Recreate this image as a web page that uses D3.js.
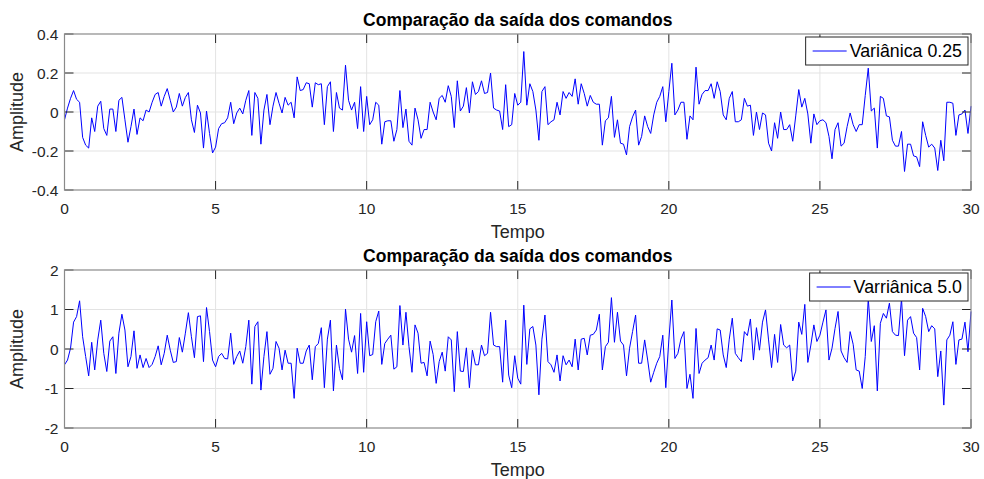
<!DOCTYPE html>
<html>
<head>
<meta charset="utf-8">
<script src="https://cdnjs.cloudflare.com/ajax/libs/d3/7.8.5/d3.min.js"></script>
<style>
  body { margin: 0; background: #fff; }
  svg { display: block; font-family: "Liberation Sans", Arial, sans-serif; }
  .tick-label { fill: #262626; font-size: 15.5px; }
  .axis-label { fill: #262626; font-size: 18px; }
  .panel-title { fill: #000; font-size: 17.5px; font-weight: bold; }
  .legend-text { fill: #000; font-size: 17.8px; }
</style>
</head>
<body>
<div id="chart"></div>
<script>
// sample period of both signals (s)
let sampleStep = 0.1;

let xTicks = [0, 5, 10, 15, 20, 25, 30];
let yTicksTop = [-0.4, -0.2, 0, 0.2, 0.4];
let yTicksBottom = [-2, -1, 0, 1, 2];

let titleText = "Comparação da saída dos comandos";
let legendTop = "Variânica 0.25";
let legendBottom = "Varriânica 5.0";

// variance 0.25 output, one row per second
let outputLow = [
  -0.04, 0.02, 0.07, 0.11, 0.065, 0.05, -0.13, -0.17, -0.185, -0.03,
  -0.10, 0.03, 0.055, -0.085, -0.12, 0.015, 0.015, -0.10, 0.06, 0.075,
  -0.04, -0.155, -0.075, 0.015, -0.115, -0.03, -0.045, 0.01, 0.0, 0.05,
  0.09, 0.10, 0.03, 0.08, 0.12, 0.06, 0.0, 0.025, 0.095, 0.03,
  0.075, 0.10, -0.04, -0.105, 0.035, -0.005, -0.185, 0.005, -0.11, -0.21,
  -0.18, -0.085, -0.06, -0.055, -0.03, 0.05, -0.06, -0.005, 0.02, -0.01,
  0.06, 0.11, -0.12, 0.10, 0.07, -0.165, 0.01, 0.09, -0.065, 0.03,
  0.10, 0.045, -0.005, 0.075, 0.035, 0.05, -0.03, 0.18, 0.11, 0.115,
  0.15, 0.145, 0.025, 0.15, 0.14, 0.145, -0.065, 0.13, 0.155, -0.10,
  0.10, 0.02, 0.01, 0.24, 0.06, 0.01, 0.05, -0.085, 0.13, -0.10,
  0.08, -0.065, -0.04, 0.05, 0.035, -0.165, -0.05, -0.045, -0.045, -0.15,
  -0.09, 0.11, -0.08, 0.015, -0.15, -0.17, 0.02, -0.04, -0.135, -0.09,
  -0.09, 0.05, 0.0, -0.04, 0.07, 0.085, 0.05, 0.135, 0.08, -0.08,
  0.16, 0.005, 0.03, 0.125, -0.005, 0.155, 0.09, 0.105, 0.16, 0.095,
  0.10, 0.20, 0.02, 0.01, 0.005, -0.09, 0.14, -0.075, -0.065, 0.095,
  0.035, 0.05, 0.31, 0.035, 0.145, 0.105, 0.01, -0.145, 0.105, 0.13,
  -0.065, -0.05, -0.04, 0.05, -0.015, 0.105, 0.07, 0.10, 0.08, 0.17,
  0.04, 0.145, 0.095, 0.03, 0.085, 0.05, 0.04, 0.04, -0.17, -0.045,
  -0.03, 0.08, -0.13, -0.04, -0.16, -0.165, -0.22, -0.075, -0.025, 0.01,
  -0.17, -0.125, -0.02, -0.075, -0.11, -0.015, 0.05, 0.08, 0.13, -0.05,
  0.105, 0.25, -0.015, 0.01, 0.05, 0.05, -0.14, -0.02, -0.04, 0.23,
  0.04, 0.09, 0.11, 0.11, 0.145, 0.07, 0.155, 0.105, -0.015, -0.04,
  0.07, 0.105, -0.05, -0.05, -0.04, 0.07, 0.03, 0.035, -0.12, 0.0,
  -0.09, -0.005, -0.015, -0.16, -0.20, -0.055, -0.135, 0.0, -0.09, -0.09,
  -0.065, -0.15, -0.02, 0.115, 0.025, 0.07, -0.01, -0.16, -0.01, -0.065,
  -0.045, -0.04, -0.055, -0.125, -0.24, -0.09, -0.055, -0.175, -0.16, -0.075,
  -0.005, -0.065, -0.10, -0.065, -0.065, 0.085, 0.225, 0.005, 0.02, -0.185,
  0.08, 0.07, -0.02, -0.025, -0.145, -0.175, -0.175, -0.10, -0.305, -0.165,
  -0.165, -0.225, -0.23, -0.28, -0.05, -0.12, -0.18, -0.165, -0.185, -0.30,
  -0.145, -0.25, 0.05, 0.05, 0.045, -0.12, -0.015, -0.01, 0.01, -0.11,
  0.03
];

// variance 5.0 output
let outputHigh = [
  -0.40, -0.28, 0.02, 0.68, 0.82, 1.22, 0.31, -0.19, -0.68, 0.17,
  -0.53, 0.23, 0.73, -0.11, -0.57, 0.20, 0.31, -0.62, 0.40, 0.88,
  0.48, -0.45, -0.19, 0.46, -0.49, -0.15, -0.47, -0.24, -0.47, -0.39,
  -0.19, 0.08, -0.40, -0.11, 0.35, -0.03, -0.34, -0.32, 0.29, -0.08,
  0.40, 0.92, 0.31, -0.22, 0.82, 0.84, -0.32, 1.05, 0.44, -0.28,
  -0.45, -0.19, -0.11, -0.24, -0.25, 0.40, -0.39, -0.19, -0.05, -0.36,
  0.06, 0.73, -0.89, 0.57, 0.69, -1.04, -0.19, 0.44, -0.64, -0.49,
  0.19, 0.02, -0.53, -0.03, -0.36, -0.36, -1.25, 0.02, -0.36, -0.36,
  -0.05, 0.10, -0.78, 0.06, 0.14, 0.54, -0.98, 0.25, 0.73, -1.06,
  0.10, -0.49, -0.78, 1.01, 0.25, -0.08, 0.34, -0.62, 0.90, -0.59,
  0.69, -0.17, -0.14, 0.69, 0.96, -0.39, 0.14, 0.25, 0.35, -0.51,
  -0.45, 1.10, 0.10, 0.93, 0.06, -0.59, 0.61, 0.40, -0.36, -0.34,
  -0.68, 0.20, -0.14, -0.87, -0.32, -0.08, -0.56, 0.31, 0.23, -1.08,
  0.44, -0.56, -0.57, 0.03, -0.98, -0.03, -0.40, -0.40, 0.10, -0.17,
  -0.11, 0.93, 0.10, 0.06, 0.06, -0.84, 0.73, -0.66, -0.98, -0.17,
  -0.74, -0.89, 1.11, -0.39, 0.51, 0.57, 0.10, -1.16, 0.25, 0.86,
  -0.32, -0.40, -0.59, -0.15, -0.81, -0.17, -0.40, -0.28, -0.45, 0.25,
  -0.53, 0.25, 0.27, -0.15, 0.35, 0.37, 0.48, 0.88, -0.53, 0.06,
  0.17, 1.30, 0.17, 0.93, 0.20, 0.10, -0.68, 0.02, 0.44, 0.86,
  -0.36, -0.36, 0.23, -0.28, -0.84, -0.59, -0.36, -0.19, 0.35, -0.98,
  0.23, 1.24, -0.24, -0.11, 0.25, 0.44, -1.00, -0.64, -1.25, 0.52,
  -0.62, -0.36, -0.28, -0.22, 0.10, -0.28, 0.51, 0.48, -0.15, -0.47,
  0.25, 0.78, -0.11, -0.22, -0.32, 0.44, 0.34, 0.76, -0.28, 0.54,
  -0.03, 0.68, 0.99, 0.23, -0.47, 0.37, -0.34, 0.62, 0.10, 0.03,
  0.10, -0.81, -0.56, 0.68, 0.37, 1.13, -0.34, 0.10, 0.61, 0.19,
  0.35, 0.68, 0.99, -0.28, 0.02, 0.52, 0.95, -0.05, -0.22, -0.34,
  0.44, 0.12, -0.53, -0.56, -1.00, -0.19, 1.28, 0.19, 0.59, -1.06,
  0.65, 0.90, 0.78, 1.16, 0.44, 0.35, 0.34, 1.28, -0.17, 0.73,
  0.82, 0.40, 0.29, -0.53, 1.03, 0.82, 0.44, 0.59, 0.51, -0.70,
  -0.05, -1.42, 0.23, 0.35, 0.69, -0.39, 0.23, 0.25, 0.68, -0.07,
  0.95
];

let width = 984,
  height = 479;

let svg = d3
  .select("#chart")
  .append("svg")
  .attr("width", width)
  .attr("height", height);

let xLeft = 64.5,
  xRight = 971;

let xScale = d3.scaleLinear().domain([0, 30]).range([xLeft, xRight]);

let line = d3.line();

function drawPanel(opts) {
  let yScale = d3
    .scaleLinear()
    .domain(d3.extent(opts.yTicks))
    .range([opts.bottom, opts.top]);

  let g = svg.append("g");
  let tickLen = 9;

  // grid
  let grid = g.append("g").attr("stroke", "#e3e3e3");
  grid
    .selectAll("line.gx")
    .data(xTicks.slice(1, -1))
    .join("line")
    .attr("class", "gx")
    .attr("x1", (d) => xScale(d))
    .attr("x2", (d) => xScale(d))
    .attr("y1", opts.top)
    .attr("y2", opts.bottom);

  grid
    .selectAll("line.gy")
    .data(opts.yTicks.slice(1, -1))
    .join("line")
    .attr("class", "gy")
    .attr("x1", xLeft)
    .attr("x2", xRight)
    .attr("y1", (d) => yScale(d))
    .attr("y2", (d) => yScale(d));

  // signal
  let values = opts.values.map((v, i) => [i * sampleStep, v]);
  line.x((d) => xScale(d[0])).y((d) => yScale(d[1]));

  g.append("path")
    .datum(values)
    .attr("d", line)
    .attr("fill", "none")
    .attr("stroke", "#0000ff")
    .attr("stroke-width", 1)
    .attr("stroke-linejoin", "round");

  // inward ticks on all four sides (matlab box style)
  let ticks = g.append("g").attr("stroke", "#262626").attr("stroke-width", 1);
  xTicks.forEach((t) => {
    ticks.append("line")
      .attr("x1", xScale(t)).attr("x2", xScale(t))
      .attr("y1", opts.bottom).attr("y2", opts.bottom - tickLen);
    ticks.append("line")
      .attr("x1", xScale(t)).attr("x2", xScale(t))
      .attr("y1", opts.top).attr("y2", opts.top + tickLen);
  });
  opts.yTicks.forEach((t) => {
    ticks.append("line")
      .attr("x1", xLeft).attr("x2", xLeft + tickLen)
      .attr("y1", yScale(t)).attr("y2", yScale(t));
    ticks.append("line")
      .attr("x1", xRight).attr("x2", xRight - tickLen)
      .attr("y1", yScale(t)).attr("y2", yScale(t));
  });

  g.append("rect")
    .attr("x", xLeft)
    .attr("y", opts.top)
    .attr("width", xRight - xLeft)
    .attr("height", opts.bottom - opts.top)
    .attr("fill", "none")
    .attr("stroke", "#8a8a8a")
    .attr("stroke-width", 1.2);

  // tick labels
  g.selectAll("text.xt")
    .data(xTicks)
    .join("text")
    .attr("class", "tick-label xt")
    .attr("x", (d) => xScale(d))
    .attr("y", opts.bottom + 24)
    .attr("text-anchor", "middle")
    .text((d) => d);

  g.selectAll("text.yt")
    .data(opts.yTicks)
    .join("text")
    .attr("class", "tick-label yt")
    .attr("x", xLeft - 6)
    .attr("y", (d) => yScale(d) + 5.5)
    .attr("text-anchor", "end")
    .text((d) => d);

  // labels
  g.append("text")
    .attr("class", "panel-title")
    .attr("x", (xLeft + xRight) / 2)
    .attr("y", opts.top - 8)
    .attr("text-anchor", "middle")
    .text(titleText);

  g.append("text")
    .attr("class", "axis-label")
    .attr("x", (xLeft + xRight) / 2)
    .attr("y", opts.bottom + 48)
    .attr("text-anchor", "middle")
    .text("Tempo");

  g.append("text")
    .attr("class", "axis-label")
    .attr("transform",
      "translate(23," + (opts.top + opts.bottom) / 2 + ") rotate(-90)")
    .attr("text-anchor", "middle")
    .text("Amplitude");

  // legend, anchored top right
  let legend = g.append("g");
  let box = legend.append("rect");
  let txt = legend
    .append("text")
    .attr("class", "legend-text")
    .text(opts.legend);
  let tw = txt.node().getComputedTextLength();
  let bw = tw + 50,
    bh = 28,
    bx = xRight - 3 - bw,
    by = opts.top + 3;

  box.attr("x", bx).attr("y", by)
    .attr("width", bw).attr("height", bh)
    .attr("fill", "#fff")
    .attr("stroke", "#262626")
    .attr("stroke-width", 1);
  legend.append("line")
    .attr("x1", bx + 7).attr("x2", bx + 41)
    .attr("y1", by + bh / 2).attr("y2", by + bh / 2)
    .attr("stroke", "#0000ff");
  txt.attr("x", bx + 44).attr("y", by + bh / 2 + 6);
}

drawPanel({ top: 34, bottom: 190, yTicks: yTicksTop, values: outputLow, legend: legendTop });
drawPanel({ top: 270, bottom: 428, yTicks: yTicksBottom, values: outputHigh, legend: legendBottom });
</script>
</body>
</html>
